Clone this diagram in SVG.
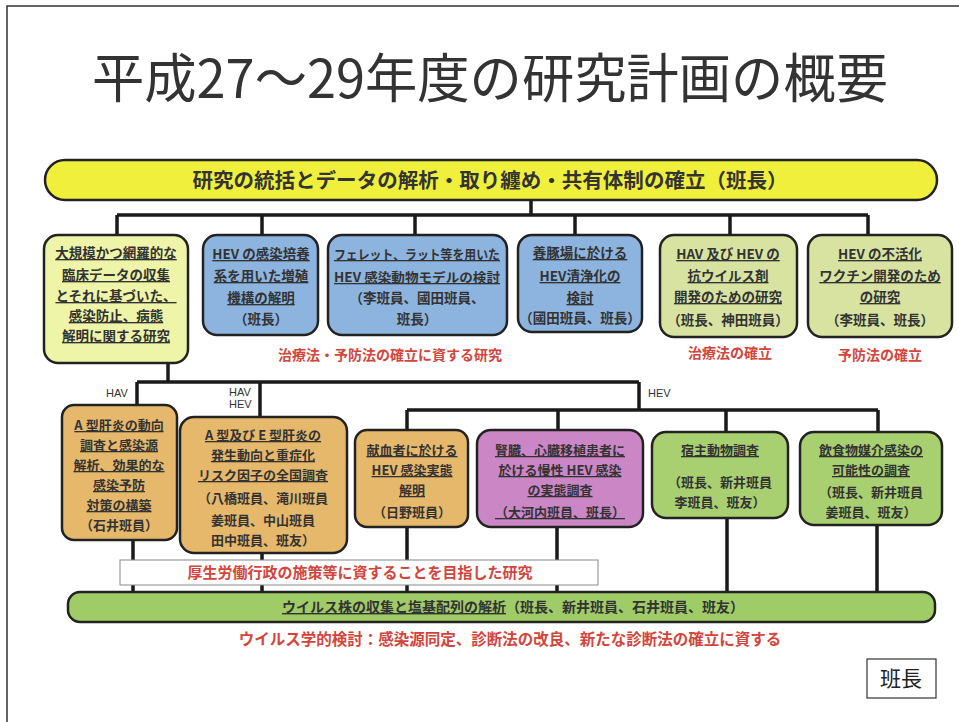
<svg xmlns="http://www.w3.org/2000/svg" width="959" height="722" viewBox="0 0 959 722">
<style>
.t{font-family:"Noto Sans CJK JP","Noto Sans",sans-serif;font-weight:700;fill:#333;text-anchor:middle}
.u{text-decoration:underline}
.r{font-family:"Noto Sans CJK JP","Noto Sans",sans-serif;font-weight:700;fill:#d2453c;text-anchor:middle}
.lab{font-family:"Liberation Sans",Arial,sans-serif;font-size:11px;fill:#333}
.box{stroke:#222;stroke-width:2.5}
.c{stroke:#1a1a1a;stroke-width:3.5;fill:none}
</style>
<rect width="959" height="722" fill="#fff"/>
<path d="M7 722 V6 H959" fill="none" stroke="#333" stroke-width="1.5"/>
<text x="490" y="98" font-family="'Noto Sans CJK JP',sans-serif" font-size="53" fill="#333" text-anchor="middle" textLength="796" lengthAdjust="spacingAndGlyphs">平成27〜29年度の研究計画の概要</text>

<g id="connectors">
<path class="c" d="M531 200 V215 M117 215 H868 M117 215 V235 M262 215 V235 M415 215 V235 M575 215 V235 M730 215 V235 M868 215 V235"/>
<path class="c" d="M168 363 V382 M137 382 H639 M137 382 V405 M260 382 V417 M639 382 V410 M407 410 H878 M407 410 V430 M558 410 V430 M726 410 V432 M878 410 V432"/>
<path class="c" d="M133 540 V592 M262 553 V592 M407 527 V592 M557 527 V592 M727 518 V592 M877 525 V592"/>
</g>

<g id="top-bar">
<rect x="45" y="160" width="892" height="40" rx="20" fill="#f0f03c" class="box"/>
<text class="t" x="490" y="188" font-size="20" font-weight="500" textLength="595" lengthAdjust="spacingAndGlyphs">研究の統括とデータの解析・取り纏め・共有体制の確立（班長）</text>
</g>

<g id="n1">
<rect x="44" y="235" width="144" height="128" rx="14" fill="#eef4a8" class="box"/>
<g class="t" font-size="13.5">
<text class="u" x="116" y="258">大規模かつ網羅的な</text>
<text class="u" x="116" y="280">臨床データの収集</text>
<text class="u" x="116" y="301">とそれに基づいた、</text>
<text class="u" x="116" y="321">感染防止、病態</text>
<text class="u" x="116" y="341">解明に関する研究</text>
</g>
</g>
<g id="n2">
<rect x="203" y="235" width="115" height="100" rx="14" fill="#8db4de" class="box"/>
<g class="t" font-size="13.5">
<text class="u" x="261" y="259">HEV の感染培養</text>
<text class="u" x="261" y="281">系を用いた増殖</text>
<text class="u" x="261" y="303">機構の解明</text>
<text x="261" y="324">（班長）</text>
</g>
</g>
<g id="n3">
<rect x="328" y="235" width="179" height="100" rx="14" fill="#8db4de" class="box"/>
<g class="t" font-size="13">
<text class="u" x="417" y="259" textLength="166" lengthAdjust="spacingAndGlyphs">フェレット、ラット等を用いた</text>
<text class="u" x="417" y="282" textLength="166" lengthAdjust="spacingAndGlyphs">HEV 感染動物モデルの検討</text>
<text x="417" y="303" font-size="13.5">（李班員、國田班員、</text>
<text x="417" y="324" font-size="13.5">班長）</text>
</g>
</g>
<g id="n4">
<rect x="518" y="235" width="124" height="97" rx="14" fill="#8db4de" class="box"/>
<g class="t" font-size="13.5">
<text class="u" x="580" y="258">養豚場に於ける</text>
<text class="u" x="580" y="281">HEV清浄化の</text>
<text class="u" x="580" y="303">検討</text>
<text x="580" y="323">（國田班員、班長）</text>
</g>
</g>
<g id="n5">
<rect x="660" y="235" width="137" height="102" rx="14" fill="#d8e3a2" class="box"/>
<g class="t" font-size="13.5">
<text class="u" x="728" y="259">HAV 及び HEV の</text>
<text class="u" x="728" y="281">抗ウイルス剤</text>
<text class="u" x="728" y="302">開発のための研究</text>
<text x="728" y="325">（班長、神田班員）</text>
</g>
</g>
<g id="n6">
<rect x="808" y="235" width="144" height="102" rx="14" fill="#d8e3a2" class="box"/>
<g class="t" font-size="13.5">
<text class="u" x="880" y="259">HEV の不活化</text>
<text class="u" x="880" y="281">ワクチン開発のため</text>
<text class="u" x="880" y="302">の研究</text>
<text x="880" y="325">（李班員、班長）</text>
</g>
</g>

<g id="top-labels">
<text class="r" x="390" y="360" font-size="14">治療法・予防法の確立に資する研究</text>
<text class="r" x="730" y="358" font-size="14">治療法の確立</text>
<text class="r" x="880" y="360" font-size="14">予防法の確立</text>
</g>

<g id="branch-labels">
<text class="lab" x="106" y="397">HAV</text>
<text class="lab" x="229" y="396">HAV</text>
<text class="lab" x="229" y="408">HEV</text>
<text class="lab" x="648" y="397">HEV</text>
</g>

<g id="m1">
<rect x="62" y="405" width="115" height="135" rx="12" fill="#e6b86c" class="box"/>
<g class="t" font-size="13">
<text class="u" x="119" y="430">A 型肝炎の動向</text>
<text class="u" x="119" y="450">調査と感染源</text>
<text class="u" x="119" y="470">解析、効果的な</text>
<text class="u" x="119" y="490">感染予防</text>
<text class="u" x="119" y="510">対策の構築</text>
<text x="119" y="530">（石井班員）</text>
</g>
</g>
<g id="m2">
<rect x="180" y="417" width="167" height="136" rx="14" fill="#e6b86c" class="box"/>
<g class="t" font-size="13">
<text class="u" x="263" y="440">A 型及び E 型肝炎の</text>
<text class="u" x="263" y="460">発生動向と重症化</text>
<text class="u" x="263" y="480">リスク因子の全国調査</text>
<text x="263" y="503">（八橋班員、滝川班員</text>
<text x="263" y="525">姜班員、中山班員</text>
<text x="263" y="545">田中班員、班友）</text>
</g>
</g>
<g id="m3">
<rect x="355" y="430" width="113" height="97" rx="12" fill="#e6b86c" class="box"/>
<g class="t" font-size="13">
<text class="u" x="412" y="455">献血者に於ける</text>
<text class="u" x="412" y="475">HEV 感染実態</text>
<text class="u" x="412" y="495">解明</text>
<text x="412" y="517">（日野班員）</text>
</g>
</g>
<g id="m4">
<rect x="477" y="430" width="166" height="97" rx="14" fill="#cb86c6" class="box"/>
<g class="t" font-size="13">
<text class="u" x="560" y="455">腎臓、心臓移植患者に</text>
<text class="u" x="560" y="475">於ける慢性 HEV 感染</text>
<text class="u" x="560" y="495">の実態調査</text>
<text class="u" x="560" y="517">（大河内班員、班長）</text>
</g>
</g>
<g id="m5">
<rect x="652" y="432" width="136" height="86" rx="14" fill="#a8d070" class="box"/>
<g class="t" font-size="13">
<text class="u" x="720" y="455">宿主動物調査</text>
<text x="720" y="487">（班長、新井班員</text>
<text x="720" y="507">李班員、班友）</text>
</g>
</g>
<g id="m6">
<rect x="800" y="432" width="142" height="93" rx="14" fill="#a8d070" class="box"/>
<g class="t" font-size="13">
<text class="u" x="871" y="455">飲食物媒介感染の</text>
<text class="u" x="871" y="475">可能性の調査</text>
<text x="871" y="497">（班長、新井班員</text>
<text x="871" y="517">姜班員、班友）</text>
</g>
</g>

<g id="policy-label">
<rect x="120" y="560" width="478" height="25" fill="#fff" stroke="#888" stroke-width="1"/>
<text class="r" x="360" y="578" font-size="15">厚生労働行政の施策等に資することを目指した研究</text>
</g>

<g id="bottom-bar">
<rect x="68" y="592" width="867" height="30" rx="12" fill="#a0cc68" class="box"/>
<text class="t" x="513" y="612" font-size="14" font-weight="500"><tspan class="u">ウイルス株の収集と塩基配列の解析</tspan>（班長、新井班員、石井班員、班友）</text>
</g>
<text class="r" x="510" y="645" font-size="15.5">ウイルス学的検討：感染源同定、診断法の改良、新たな診断法の確立に資する</text>

<g id="legend">
<rect x="867" y="659" width="69" height="39" fill="#fff" stroke="#333" stroke-width="1.2"/>
<text x="901" y="686" font-family="'Noto Sans CJK JP',sans-serif" font-size="21" fill="#222" text-anchor="middle">班長</text>
</g>
</svg>
